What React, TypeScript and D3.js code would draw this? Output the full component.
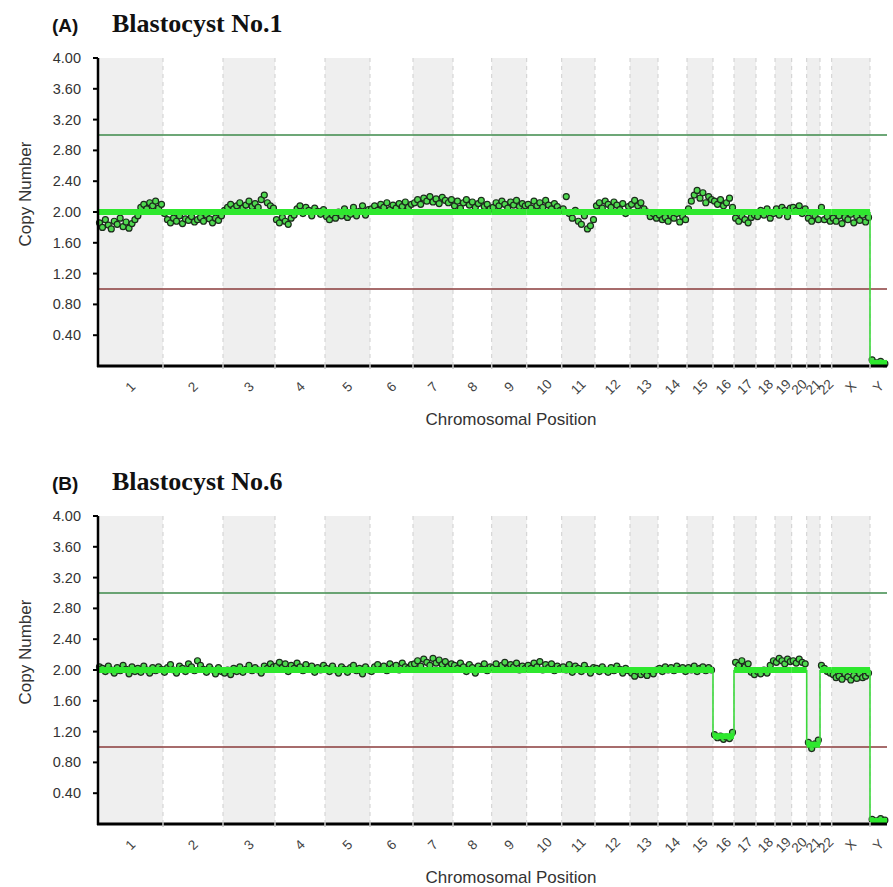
import React from 'react';
import * as d3 from 'd3';

const chromosomes = ['1','2','3','4','5','6','7','8','9','10','11','12','13','14','15','16','17','18','19','20','21','22','X','Y'];
const chromSizes = [65, 60, 52, 50, 45, 43, 40, 38.7, 35, 35, 33.3, 35, 28, 29, 26, 21, 22, 19, 16.7, 15, 13.3, 11.7, 38.3, 17];
const yTicks = [0.4, 0.8, 1.2, 1.6, 2.0, 2.4, 2.8, 3.2, 3.6, 4.0];
const gainLevel = 3.0;
const lossLevel = 1.0;

const panelLabels = ['(A)', '(B)'];
const panelTitles = ['Blastocyst No.1', 'Blastocyst No.6'];

const panelAPoints: number[][] = [
  [1.86, 1.80, 1.90, 1.83, 1.78, 1.88, 1.84, 1.92, 1.81, 1.87, 1.79, 1.85, 1.90, 1.95, 2.06, 2.10, 2.04, 2.12, 2.08, 2.14, 2.05, 2.10],
  [1.98, 1.90, 1.86, 1.92, 1.88, 1.95, 1.85, 1.91, 1.89, 1.94, 1.87, 1.90, 1.93, 1.88, 1.96, 1.91, 1.86, 1.92, 1.89, 1.95],
  [2.02, 2.06, 2.10, 2.04, 2.08, 2.12, 2.05, 2.09, 2.14, 2.07, 2.11, 2.06, 2.16, 2.22, 2.12, 2.08, 2.05],
  [1.90, 1.86, 1.93, 1.88, 1.84, 1.92, 1.96, 2.04, 2.08, 1.98, 2.06, 2.02, 1.95, 2.05, 2.01, 1.97, 2.03],
  [1.94, 1.90, 1.96, 1.92, 2.00, 1.95, 2.04, 1.93, 1.97, 2.06, 1.95, 2.01, 2.08, 1.96, 2.03],
  [2.04, 2.08, 2.02, 2.10, 2.06, 2.12, 2.03, 2.09, 2.05, 2.11, 2.07, 2.13, 2.06, 2.10],
  [2.12, 2.16, 2.10, 2.18, 2.14, 2.20, 2.13, 2.17, 2.11, 2.19, 2.15, 2.12, 2.16],
  [2.08, 2.14, 2.05, 2.12, 2.16, 2.09, 2.13, 2.06, 2.11, 2.15, 2.07, 2.10, 2.04],
  [2.06, 2.12, 2.08, 2.14, 2.10, 2.05, 2.13, 2.09, 2.15, 2.07, 2.11, 2.08],
  [2.10, 2.05, 2.14, 2.08, 2.12, 2.06, 2.15, 2.09, 2.04, 2.11, 2.07, 2.02],
  [2.04, 2.20, 1.98, 1.92, 2.02, 1.88, 1.84, 1.95, 1.78, 1.82, 1.90],
  [2.08, 2.12, 2.05, 2.14, 2.10, 2.06, 2.13, 2.09, 2.03, 2.11, 1.98, 2.07],
  [2.10, 2.15, 2.08, 2.12, 2.04, 2.00, 1.94, 1.98, 1.92],
  [1.96, 1.90, 1.93, 1.88, 1.95, 1.92, 1.98, 1.87, 1.94, 1.90],
  [2.04, 2.14, 2.22, 2.28, 2.18, 2.25, 2.12, 2.20, 2.16],
  [2.14, 2.10, 2.16, 2.08, 2.12, 2.18, 2.06],
  [1.92, 1.88, 1.94, 1.90, 1.86, 1.93, 1.96],
  [1.94, 2.02, 1.96, 2.04, 1.92, 1.98],
  [2.04, 1.96, 2.06, 2.02, 1.94, 2.05],
  [2.06, 2.02, 2.08, 1.98, 2.04],
  [1.92, 1.88, 1.95, 1.90],
  [2.06, 1.90, 1.94, 1.88],
  [1.92, 1.88, 1.95, 1.85, 1.93, 1.90, 1.97, 1.86, 1.94, 1.89, 1.96, 1.87, 1.93],
  [0.08, 0.04, 0.06, 0.03],
];
const panelASegments = [2, 2, 2, 2, 2, 2, 2, 2, 2, 2, 2, 2, 2, 2, 2, 2, 2, 2, 2, 2, 2, 2, 2, 0.04];

const panelBPoints: number[][] = [
  [2.04, 2.02, 1.98, 2.05, 2.00, 1.96, 2.03, 1.99, 2.06, 2.01, 1.95, 2.04, 1.98, 2.02, 1.97, 2.05, 2.00, 1.96, 2.03, 1.99, 2.04, 2.01],
  [1.97, 2.03, 2.07, 2.00, 1.96, 2.05, 2.02, 1.98, 2.08, 2.04, 1.99, 2.12, 2.06, 2.01, 1.97, 2.04, 2.00, 1.95, 2.03, 1.98],
  [1.96, 2.00, 1.94, 2.02, 1.98, 2.04, 1.97, 2.01, 2.06, 1.99, 2.03, 2.00, 1.96, 2.05, 2.02, 2.08, 2.04],
  [2.05, 2.10, 2.03, 2.08, 1.98, 2.06, 2.02, 2.09, 2.04, 1.99, 2.07, 2.01, 2.05, 1.97, 2.03, 2.00, 2.06],
  [2.02, 1.98, 2.05, 2.00, 1.96, 2.04, 2.01, 1.97, 2.03, 2.06, 1.99, 2.02, 1.95, 2.04, 2.00],
  [1.98, 2.04, 2.07, 2.01, 2.05, 1.99, 2.08, 2.03, 2.06, 2.00, 2.09, 2.04, 2.02, 2.07],
  [2.08, 2.12, 2.05, 2.14, 2.10, 2.06, 2.15, 2.09, 2.13, 2.07, 2.11, 2.04, 2.08],
  [2.06, 2.02, 2.09, 2.04, 1.98, 2.07, 2.03, 1.96, 2.05, 2.01, 2.08, 1.99, 2.04],
  [2.03, 2.08, 2.01, 2.06, 2.10, 2.02, 2.07, 2.04, 2.09, 2.00, 2.05, 2.02],
  [2.06, 2.02, 2.09, 2.04, 2.11, 2.00, 2.07, 2.03, 2.08, 1.99, 2.05, 2.02],
  [2.04, 2.00, 2.07, 1.97, 2.05, 2.02, 1.98, 2.06, 2.01, 1.96, 2.03],
  [2.02, 1.98, 2.04, 2.00, 1.97, 2.03, 1.99, 2.05, 2.01, 1.96, 2.02, 1.99],
  [1.96, 1.92, 1.98, 1.94, 1.97, 1.93, 1.99, 1.95, 2.00],
  [2.02, 1.98, 2.04, 2.00, 2.03, 1.99, 2.05, 2.01, 2.03, 1.98],
  [2.03, 2.00, 2.05, 1.98, 2.02, 2.04, 1.99, 2.03, 2.00],
  [1.16, 1.12, 1.14, 1.10, 1.13, 1.11, 1.19],
  [2.10, 2.06, 2.12, 2.04, 2.08, 1.97, 1.94],
  [1.98, 1.95, 2.00, 1.96, 2.06, 2.12],
  [2.10, 2.15, 2.12, 2.08, 2.14, 2.11],
  [2.12, 2.09, 2.14, 2.10, 2.08],
  [1.06, 0.98, 1.04, 1.09],
  [2.06, 2.02, 1.98, 1.96],
  [1.94, 1.90, 1.92, 1.88, 1.95, 1.91, 1.87, 1.93, 1.89, 1.95, 1.90, 1.92, 1.96],
  [0.06, 0.04, 0.07, 0.05],
];
const panelBSegments = [2, 2, 2, 2, 2, 2, 2, 2, 2, 2, 2, 2, 2, 2, 2, 1.14, 2, 2, 2, 2, 1.03, 2, 2, 0.04];

const SANS = '"Liberation Sans", Arial, sans-serif';
const SERIF = '"Liberation Serif", "Times New Roman", serif';

const LEFT = 98;
const RIGHT = 887;
const TOP = 58;
const BOTTOM = 366;
const PANEL_OFFSET = 458;

const ends = Array.from(d3.cumsum(chromSizes));
const starts = ends.map((e, i) => e - chromSizes[i]);
const total = ends[ends.length - 1];

function Panel({ idx, points, segments }: { idx: number; points: number[][]; segments: number[] }) {
  const dy = idx * PANEL_OFFSET;
  const x = d3.scaleLinear().domain([0, total]).range([LEFT, RIGHT]);
  const y = d3.scaleLinear().domain([0, 4]).range([BOTTOM + dy, TOP + dy]);
  const fmt = d3.format('.2f');

  const pts: { cx: number; cy: number }[] = [];
  points.forEach((arr, c) => {
    arr.forEach((v, i) => {
      pts.push({ cx: x(starts[c] + ((i + 0.5) / arr.length) * chromSizes[c]), cy: y(v) });
    });
  });

  const verticals: { x: number; y1: number; y2: number }[] = [];
  for (let c = 0; c < segments.length - 1; c++) {
    if (segments[c] !== segments[c + 1]) {
      verticals.push({ x: x(ends[c]), y1: y(segments[c]), y2: y(segments[c + 1]) });
    }
  }

  return (
    <g>
      <text x={52} y={32 + dy} fontFamily={SANS} fontWeight="bold" fontSize={19} fill="#111">{panelLabels[idx]}</text>
      <text x={112} y={32 + dy} fontFamily={SERIF} fontWeight="bold" fontSize={26} fill="#111">{panelTitles[idx]}</text>

      {chromosomes.map((c, i) => i % 2 === 0 ? (
        <rect key={'b' + c} x={x(starts[i])} y={TOP + dy} width={x(ends[i]) - x(starts[i])} height={BOTTOM - TOP} fill="#efefef" />
      ) : null)}
      {ends.slice(0, -1).map((e, i) => (
        <line key={'d' + i} x1={x(e)} x2={x(e)} y1={TOP + dy} y2={BOTTOM + dy} stroke="#cfcfcf" strokeWidth={1} strokeDasharray="4,4" />
      ))}

      <line x1={LEFT} x2={RIGHT} y1={y(gainLevel)} y2={y(gainLevel)} stroke="#3d8a4a" strokeWidth={1.6} />
      <line x1={LEFT} x2={RIGHT} y1={y(lossLevel)} y2={y(lossLevel)} stroke="#8a3b3b" strokeWidth={1.6} />

      {pts.map((p, i) => (
        <circle key={'p' + i} cx={p.cx} cy={p.cy} r={3} fill="#4fd84f" stroke="#1c2c1c" strokeWidth={1.2} />
      ))}

      {verticals.map((v, i) => (
        <line key={'v' + i} x1={v.x} x2={v.x} y1={v.y1} y2={v.y2} stroke="#3ad83a" strokeWidth={1.6} />
      ))}
      {segments.map((s, i) => (
        <line key={'s' + i} x1={x(starts[i])} x2={x(ends[i])} y1={y(s)} y2={y(s)} stroke="#2ee82e" strokeWidth={6} />
      ))}

      <line x1={LEFT} x2={LEFT} y1={TOP + dy} y2={BOTTOM + dy + 1} stroke="#000" strokeWidth={2.5} />
      {yTicks.map(t => (
        <g key={'t' + t}>
          <line x1={LEFT - 5} x2={LEFT} y1={y(t)} y2={y(t)} stroke="#000" strokeWidth={2} />
          <text x={81} y={y(t)} textAnchor="end" dominantBaseline="central" fontFamily={SANS} fontSize={14.5} fill="#333">{fmt(t)}</text>
        </g>
      ))}
      <line x1={LEFT - 1} x2={RIGHT} y1={BOTTOM + dy} y2={BOTTOM + dy} stroke="#000" strokeWidth={3} />
      {ends.slice(0, -1).map((e, i) => (
        <line key={'g' + i} x1={x(e)} x2={x(e)} y1={BOTTOM + dy - 2} y2={BOTTOM + dy + 3} stroke="#c8c8c8" strokeWidth={1.5} />
      ))}
      {chromosomes.map((c, i) => (
        <text key={'l' + c} transform={`translate(${x(starts[i] + chromSizes[i] / 2)},${387 + dy}) rotate(-45)`} textAnchor="middle" dominantBaseline="central" fontFamily={SANS} fontSize={13.5} fill="#444">{c}</text>
      ))}

      <text x={511} y={425 + dy} textAnchor="middle" fontFamily={SANS} fontSize={17} fill="#333">Chromosomal Position</text>
      <text transform={`translate(25,${194 + dy}) rotate(-90)`} textAnchor="middle" dominantBaseline="central" fontFamily={SANS} fontSize={17} fill="#333">Copy Number</text>
    </g>
  );
}

export default function App() {
  return (
    <svg width={893} height={887} style={{ position: 'absolute', left: 0, top: 0, background: '#fff' }}>
      <rect x={0} y={0} width={893} height={887} fill="#fff" />
      <Panel idx={0} points={panelAPoints} segments={panelASegments} />
      <Panel idx={1} points={panelBPoints} segments={panelBSegments} />
    </svg>
  );
}
